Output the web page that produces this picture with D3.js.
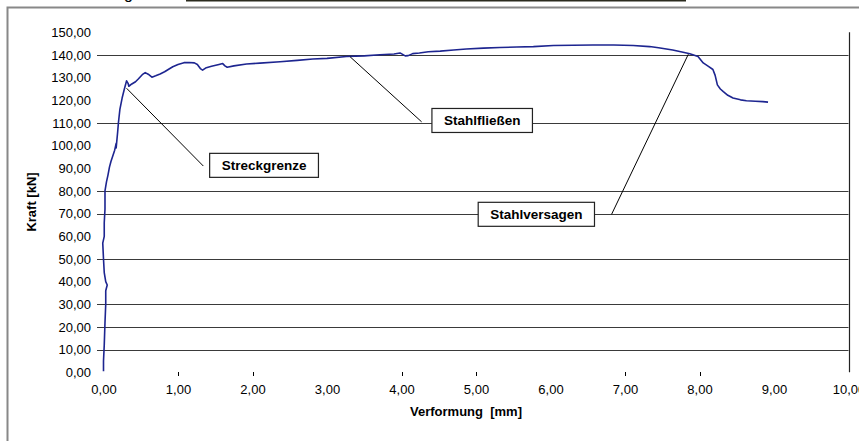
<!DOCTYPE html>
<html>
<head>
<meta charset="utf-8">
<script src="https://cdn.jsdelivr.net/npm/d3@7"></script>
<style>
  body { margin: 0; background: #fff; }
  text { font-family: "Liberation Sans", Arial, sans-serif; }
</style>
</head>
<body>
<div id="svg-area"></div>
<script>
/* Global Variables*/
var width = 859;
var height = 441;

// Verformung [mm]
var deformation = [0.00, 0.00, 0.01, 0.02, 0.03, 0.03, 0.05, 0.03, 0.01, 0.00,
    -0.01, 0.01, 0.01, 0.02, 0.02, 0.04, 0.06, 0.08, 0.10, 0.12,
    0.15, 0.17, 0.17, 0.19, 0.20, 0.22, 0.25, 0.28, 0.31, 0.33,
    0.34, 0.38, 0.43, 0.47, 0.52, 0.56, 0.60, 0.65, 0.70, 0.76,
    0.82, 0.88, 0.93, 1.00, 1.08, 1.15, 1.22, 1.26, 1.30, 1.33,
    1.38, 1.45, 1.55, 1.60, 1.63, 1.66, 1.75, 1.92, 2.10, 2.37,
    2.60, 2.81, 3.00, 3.26, 3.50, 3.71, 3.90, 3.98, 4.05, 4.09,
    4.15, 4.24, 4.36, 4.52, 4.70, 4.87, 5.10, 5.32, 5.55, 5.77,
    6.04, 6.30, 6.57, 6.85, 7.11, 7.33, 7.45, 7.64, 7.78, 7.87,
    7.98, 8.05, 8.12, 8.18, 8.21, 8.24, 8.28, 8.32, 8.38, 8.45,
    8.55, 8.63, 8.75, 8.85, 8.92];

// Kraft [kN]
var force = [0.5, 5, 12, 22, 30, 36, 38.5, 40, 44, 50,
    57, 60, 66, 72, 80, 84, 87, 90.5, 93, 95,
    98, 101, 99, 106, 110, 116, 121, 125, 128.6, 127.5,
    126.2, 127.2, 128.2, 129.5, 131.3, 132.2, 131.5, 130.2, 130.8, 131.6,
    132.6, 133.8, 134.8, 135.8, 136.6, 136.7, 136.5, 135.8, 134.0, 133.3,
    134.4, 135.0, 135.8, 136.2, 135.2, 134.6, 135.2, 136.0, 136.4, 137.0,
    137.6, 138.2, 138.5, 139.3, 139.6, 140.1, 140.4, 140.9, 139.6, 139.7,
    140.6, 140.9, 141.4, 141.7, 142.2, 142.6, 143.0, 143.3, 143.5, 143.7,
    144.2, 144.3, 144.4, 144.4, 144.2, 143.7, 143.2, 142.2, 141.2, 140.5,
    139.3, 136.5, 135.0, 133.6, 131.0, 126.8, 125.0, 123.8, 122.2, 121.0,
    120.2, 119.8, 119.6, 119.4, 119.2];

var yTicks = [0, 10, 20, 30, 40, 50, 60, 70, 80, 90, 100, 110, 120, 130, 140, 150];
var xTicks = [0, 1, 2, 3, 4, 5, 6, 7, 8, 9, 10];
var yGrid = [10, 20, 30, 50, 70, 80, 110, 140];
var xTickMarks = [1, 2, 4, 5, 7, 8];

var noteLabels = ["Streckgrenze", "Stahlfließen", "Stahlversagen"];
var noteTargets = [[0.31, 125.3], [3.31, 139.2], [7.85, 140.3]];
var noteEnds = [[1.34, 91.0], [4.27, 110.5], [6.82, 69.7]];
var noteCenters = [[2.155, 91.3], [5.083, 111.1], [5.81, 69.7]];

var deLocale = d3.formatLocale({decimal: ",", thousands: ".", grouping: [3], currency: ["", " €"]});
var fmt = deLocale.format(".2f");

var x = d3.scaleLinear().domain([0, 10]).range([103.5, 848.5]);
var y = d3.scaleLinear().domain([0, 150]).range([372.3, 32.3]);

/*Setup the chart */
var svg = initSvg();
drawFrame(svg);
drawGrid(svg);
drawAxes(svg);
drawCurve(svg);
drawNotes(svg);

/*
 * initialize the svg
 */
function initSvg(){
    var svg = d3.select('#svg-area')
	.append('svg')
	.attr('width', width)
	.attr('height', height);
    svg.append('rect')
	.attr('width', width)
	.attr('height', height)
	.style('fill', '#fff');
    return svg;
}

/*
 * outer chart border plus the cut off caption above it
 */
function drawFrame(svg){
    svg.append('text')
	.attr('x', 124)
	.attr('y', -1)
	.style('font-size', '16px')
	.text('g');
    svg.append('rect')
	.attr('x', 186)
	.attr('y', 0)
	.attr('width', 500)
	.attr('height', 1.5)
	.style('fill', '#2b2b1e');
    svg.append('rect')
	.attr('x', 7.5)
	.attr('y', 7.5)
	.attr('width', 900)
	.attr('height', 500)
	.style('fill', 'none')
	.attr('stroke', '#888')
	.attr('stroke-width', 2);
}

/*
 * horizontal gridlines and right edge of the plot area
 */
function drawGrid(svg){
    svg.append('g')
	.selectAll('line')
	.data(yGrid)
	.enter()
	.append('line')
	.attr('x1', 97)
	.attr('x2', x(10))
	.attr('y1', function(d){ return Math.round(y(d)) + 0.5; })
	.attr('y2', function(d){ return Math.round(y(d)) + 0.5; })
	.attr('stroke', '#3a3a3a')
	.attr('stroke-width', 1.2);

    svg.append('line')
	.attr('x1', Math.round(x(10)) + 0.5)
	.attr('x2', Math.round(x(10)) + 0.5)
	.attr('y1', y(150))
	.attr('y2', y(0))
	.attr('stroke', '#222')
	.attr('stroke-width', 1.2);
}

/*
 * tick labels, tick marks and axis titles
 */
function drawAxes(svg){
    var yAxis = d3.axisLeft(y)
	.tickValues(yTicks)
	.tickSize(0)
	.tickPadding(0)
	.tickFormat(fmt);
    var gy = svg.append('g')
	.attr('transform', 'translate(91,0)')
	.call(yAxis);
    gy.select('.domain').remove();
    gy.selectAll('text')
	.style('font-size', '13px')
	.style('fill', '#000');

    var xAxis = d3.axisBottom(x)
	.tickValues(xTicks)
	.tickSize(0)
	.tickPadding(0)
	.tickFormat(fmt);
    var gx = svg.append('g')
	.attr('transform', 'translate(0,385)')
	.call(xAxis);
    gx.select('.domain').remove();
    gx.selectAll('text')
	.style('font-size', '13px')
	.style('fill', '#000');

    svg.append('g')
	.selectAll('line')
	.data(xTickMarks)
	.enter()
	.append('line')
	.attr('x1', function(d){ return Math.round(x(d)) + 0.5; })
	.attr('x2', function(d){ return Math.round(x(d)) + 0.5; })
	.attr('y1', 372)
	.attr('y2', 376)
	.attr('stroke', '#000');

    svg.append('text')
	.attr('transform', 'translate(36,202) rotate(-90)')
	.attr('text-anchor', 'middle')
	.style('font-size', '13px')
	.style('font-weight', 'bold')
	.text('Kraft [kN]');

    svg.append('text')
	.attr('x', 466)
	.attr('y', 416)
	.attr('text-anchor', 'middle')
	.style('font-size', '13px')
	.style('font-weight', 'bold')
	.style('white-space', 'pre')
	.text('Verformung  [mm]');
}

/*
 * the measured force / deformation curve
 */
function drawCurve(svg){
    var pts = deformation.map(function(d, i){ return [d, force[i]]; });
    var line = d3.line()
	.x(function(d){ return x(d[0]); })
	.y(function(d){ return y(d[1]); });
    svg.append('path')
	.datum(pts)
	.attr('d', line)
	.style('fill', 'none')
	.attr('stroke', '#1d2590')
	.attr('stroke-width', 1.6)
	.attr('stroke-linejoin', 'round');
}

/*
 * leader lines and boxed labels
 */
function drawNotes(svg){
    var notes = noteLabels.map(function(d, i){
	return {label: d, target: noteTargets[i], end: noteEnds[i], center: noteCenters[i]};
    });

    svg.append('g')
	.selectAll('line')
	.data(notes)
	.enter()
	.append('line')
	.attr('x1', function(d){ return x(d.target[0]); })
	.attr('y1', function(d){ return y(d.target[1]); })
	.attr('x2', function(d){ return x(d.end[0]); })
	.attr('y2', function(d){ return y(d.end[1]); })
	.attr('stroke', '#000')
	.attr('stroke-width', 1);

    var g = svg.append('g')
	.selectAll('g')
	.data(notes)
	.enter()
	.append('g')
	.attr('transform', function(d){
	    return 'translate(' + x(d.center[0]) + ',' + y(d.center[1]) + ')';
	});

    var rects = g.append('rect')
	.style('fill', '#fff')
	.attr('stroke', '#222')
	.attr('stroke-width', 1.2);

    var texts = g.append('text')
	.attr('text-anchor', 'middle')
	.attr('dy', '0.35em')
	.style('font-size', '13.5px')
	.style('font-weight', 'bold')
	.text(function(d){ return d.label; });

    texts.each(function(d, i){
	var w = this.getComputedTextLength() + 24;
	d3.select(rects.nodes()[i])
	    .attr('x', -w / 2)
	    .attr('y', -12)
	    .attr('width', w)
	    .attr('height', 24);
    });
}
</script>
</body>
</html>
